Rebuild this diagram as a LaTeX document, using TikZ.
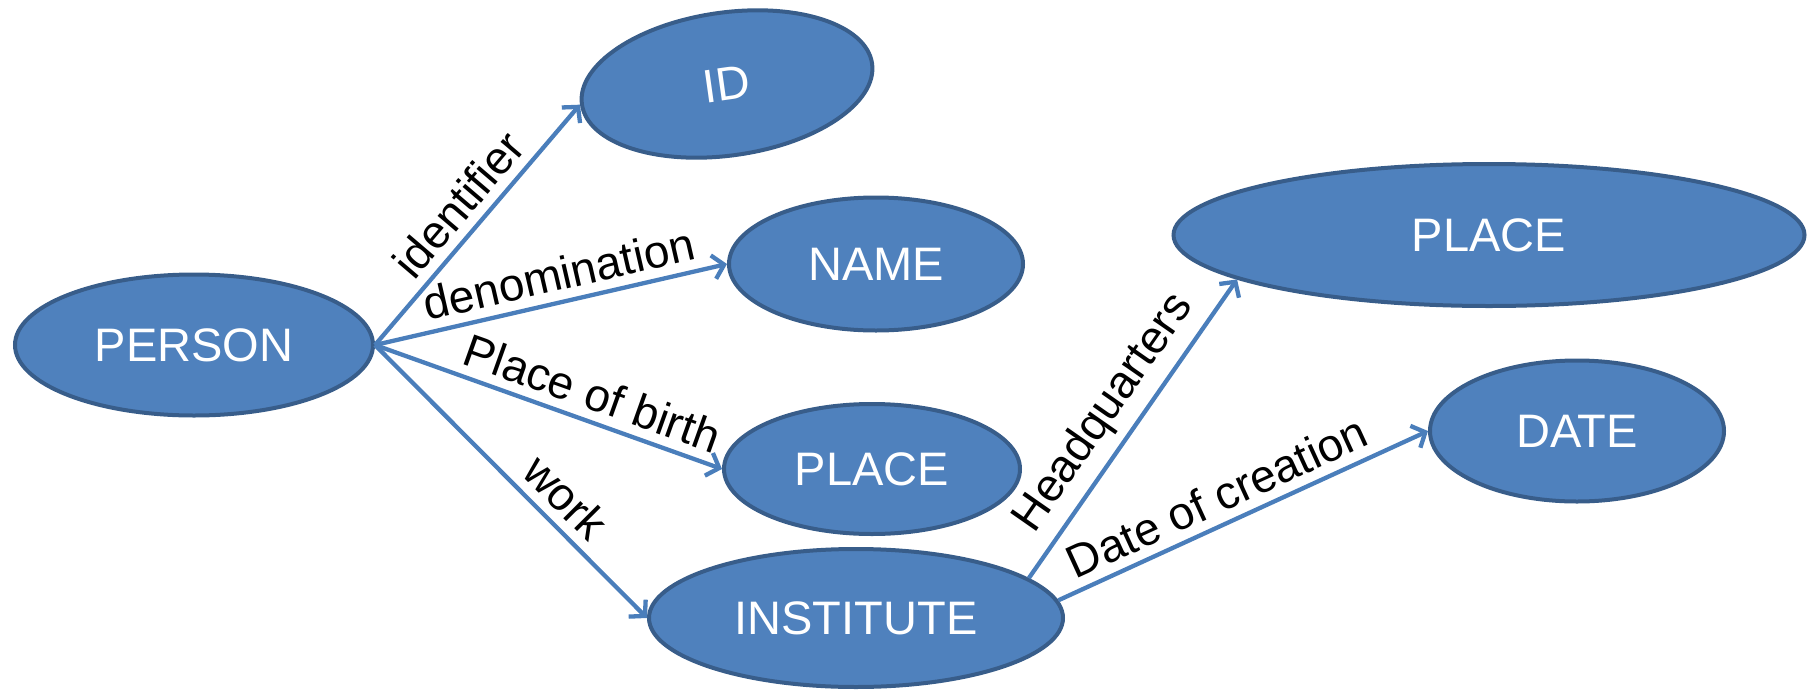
\documentclass[tikz,border=0pt]{standalone}
\usepackage{fontspec}
\setmainfont{Liberation Sans}
\usetikzlibrary{shapes.geometric,arrows.meta}
\definecolor{nodefill}{HTML}{4F81BD}
\definecolor{nodeborder}{HTML}{385D8A}
\definecolor{linkblue}{HTML}{4A7EBB}
\begin{document}
\begin{tikzpicture}[x=1pt,y=-1pt,
  entity/.style={ellipse, draw=nodeborder, fill=nodefill, line width=4pt,
    inner sep=0pt, text=white, font=\fontsize{47}{56}\selectfont},
  link/.style={draw=linkblue, line width=4.3pt,
    -{Straight Barb[length=11pt,width=24pt]}},
  lbl/.style={sloped, above=6pt, inner sep=3pt,
    font=\fontsize{46}{55}\selectfont, text=black}
]
\useasboundingbox (0,0) rectangle (1816,691);

% entities
\node[entity, minimum width=358pt, minimum height=141pt] (person) at (194,345) {PERSON};
\node[entity, rotate=8, minimum width=293pt, minimum height=143pt] (id) at (727,84) {ID};
\node[entity, minimum width=294pt, minimum height=133pt] (name) at (876,264) {NAME};
\node[entity, minimum width=296pt, minimum height=130pt] (birthplace) at (872,469) {PLACE};
\node[entity, minimum width=414pt, minimum height=138pt] (institute) at (856,618) {INSTITUTE};
\node[entity, minimum width=631pt, minimum height=142pt] (hqplace) at (1489,235) {PLACE};
\node[entity, minimum width=294pt, minimum height=141pt] (date) at (1577,431) {DATE};

% relations
\draw[link] (person.east) -- node[lbl, pos=0.51] {identifier} (id.west);
\draw[link] (person.east) -- node[lbl, pos=0.54] {denomination} (name.west);
\draw[link] (person.east) -- node[lbl, pos=0.60] {Place of birth} (birthplace.west);
\draw[link] (person.east) -- node[lbl, pos=0.63] {work} (institute.west);
\draw[link] (institute.13) -- node[lbl, pos=0.49] {Headquarters} (hqplace.190);
\draw[link] (institute.5) -- node[lbl, pos=0.46] {Date of creation} (date.west);
\end{tikzpicture}
\end{document}
